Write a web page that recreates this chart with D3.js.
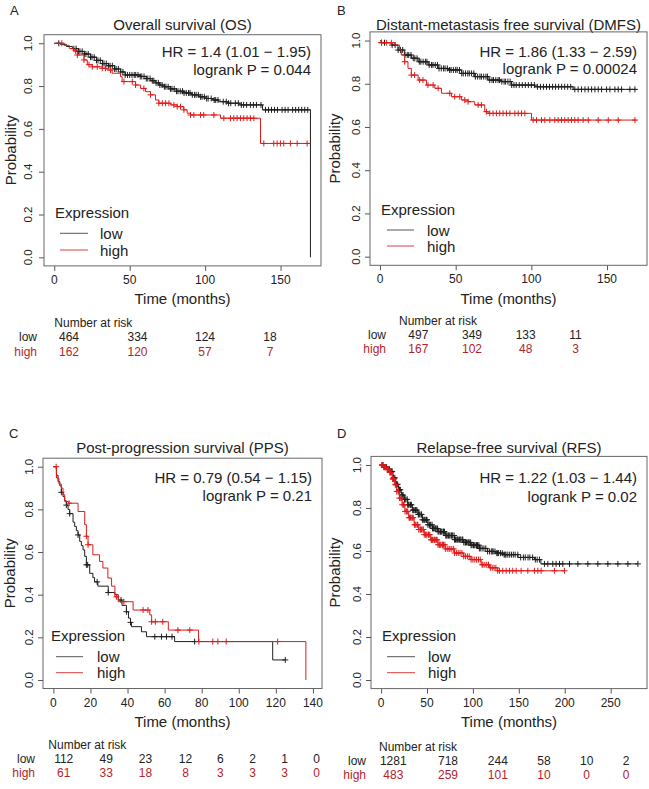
<!DOCTYPE html>
<html><head><meta charset="utf-8">
<script src="https://cdn.jsdelivr.net/npm/d3@7/dist/d3.min.js"></script>
<style>
body{margin:0;background:#fff}
text{font-family:"Liberation Sans",Arial,Helvetica,sans-serif;fill:#222}
</style>
</head><body>
<svg id="chart" width="649" height="789"></svg>
<script>
// ---------------- DATA ----------------
const yTicks = [0, 0.2, 0.4, 0.6, 0.8, 1.0];
const groups = ["low", "high"];

// A: Overall survival
const osTitle = "Overall survival (OS)";
const osStats = ["HR = 1.4 (1.01 \u2212 1.95)", "logrank P = 0.044"];
const osXTicks = [0, 50, 100, 150];
const osLowSteps = [[0,1],[4,0.995],[8,0.985],[12,0.975],[16,0.962],[20,0.95],[24,0.935],[28,0.92],[32,0.905],[36,0.895],[40,0.88],[44,0.866],[47,0.852],[57,0.845],[61,0.835],[64,0.825],[67,0.815],[70,0.805],[73,0.797],[77,0.787],[81,0.776],[86,0.768],[91,0.759],[96,0.75],[100,0.742],[105,0.735],[109,0.727],[115,0.72],[123,0.712],[138,0.689],[169.8,0]];
const osLowCensor = [3,13,14.5,16,17,18.5,20,21,22.5,24,25,26.5,28,29,30.5,32,33,34.5,36,37,38.5,40,41,42.5,44,45.5,47,48.5,50,51.5,53,54,55.5,57,58,59.5,61,62,63.5,65,66,67.5,69,70,71.5,73,74,75.5,77,78,79.5,81,82,83.5,85,86,87.5,89,90,91.5,93,94,95.5,97,98,99.5,101,102,104,106,107,108.5,112,114,115.5,117,120,122,124,125.5,127.5,130,132,134,137,140,142,144,146,148,151,153,155,158,160,162,164,166,168];
const osHighSteps = [[0,1],[6.4,0.99],[10,0.975],[13,0.965],[15.3,0.945],[19.7,0.922],[21.9,0.9],[25.2,0.89],[31.8,0.883],[35,0.875],[38.4,0.86],[43.9,0.844],[45,0.821],[53.9,0.805],[57.2,0.789],[60.5,0.774],[63.8,0.759],[67.1,0.735],[69.3,0.72],[77.1,0.712],[81.5,0.704],[85.9,0.689],[88.1,0.673],[90.3,0.665],[110.2,0.65],[136.7,0.532],[169.8,0.532]];
const osHighCensor = [5,14.1,15.3,19.7,23,25.2,28.5,31.8,34,37.3,46.2,51.7,53.9,59.4,63.8,69.3,71.6,73.8,76,79.3,81.5,83.7,85.9,90.3,92.5,96.9,99.1,105.8,112.4,116.8,119,121.2,123.4,125.6,127.8,130,132.3,138.9,145.5,147.7,149.9,152.1,156.5,161,167.6];
const osRiskLow = [464, 334, 124, 18];
const osRiskHigh = [162, 120, 57, 7];

// B: Distant-metastasis free survival
const dmfsTitle = "Distant-metastasis free survival (DMFS)";
const dmfsStats = ["HR = 1.86 (1.33 \u2212 2.59)", "logrank P = 0.00024"];
const dmfsXTicks = [0, 50, 100, 150];
const dmfsLowSteps = [[0,1],[0.8,0.99],[7.5,0.979],[11.9,0.956],[16.3,0.933],[20.7,0.918],[25.2,0.902],[31.8,0.887],[38.4,0.871],[45,0.864],[53.8,0.848],[62.6,0.833],[71.4,0.817],[80.3,0.81],[86.9,0.794],[102.3,0.786],[127.6,0.774],[169.5,0.774]];
const dmfsLowCensor = [1,3,8,10,12,13.5,15,16.5,18,19,20.5,22,23,24.5,26,27,28.5,30,31,32.5,34,35,36.5,38,39,40.5,42,43,44.5,46,47,48.5,50,51,52.5,54,55,56.5,58,59,60.5,62,63,64.5,66,67,68.5,70,71,72.5,74,75,76.5,78,79,80.5,82,83,84.5,86,87,88.5,90,92,94,96,98,100,102,104,106,108,110,112,114,116,118,120,122,124,126,128.7,130.9,133.1,135.4,137.6,139.8,142,144.2,146.4,149.7,151.9,155.2,157.4,159.6,165.1,168.4];
const dmfsHighSteps = [[0,1],[0.8,0.99],[9.7,0.979],[13,0.956],[14.1,0.933],[16.3,0.902],[18.5,0.871],[20.7,0.84],[25.2,0.817],[30.7,0.794],[36.2,0.779],[40.6,0.756],[47.2,0.74],[53.8,0.725],[58.2,0.717],[62.6,0.702],[69.2,0.671],[71.4,0.663],[100.1,0.632],[169.5,0.632]];
const dmfsHighCensor = [1,4.2,7.5,16.3,20.7,22.9,26.2,28.4,31.7,35.1,38.4,46.1,49.4,52.7,56,58.2,64.8,67,70.3,72.5,74.7,76.9,79.1,81.3,83.5,85.8,89.1,91.3,93.5,95.7,101.2,103.4,106.7,108.9,112.2,115.5,117.7,119.9,122.1,124.3,126.5,128.7,130.9,134.2,137.6,144.2,150.8,157.4,168.4];
const dmfsRiskLow = [497, 349, 133, 11];
const dmfsRiskHigh = [167, 102, 48, 3];

// C: Post-progression survival
const ppsTitle = "Post-progression survival (PPS)";
const ppsStats = ["HR = 0.79 (0.54 \u2212 1.15)", "logrank P = 0.21"];
const ppsXTicks = [0, 20, 40, 60, 80, 100, 120, 140];
const ppsLowSteps = [[0,1],[1.6,0.96],[2.5,0.93],[3.5,0.91],[4.3,0.88],[5.2,0.86],[6.1,0.84],[7,0.82],[7.9,0.8],[8.8,0.78],[10.6,0.74],[11.5,0.72],[12.4,0.7],[13.3,0.68],[14.2,0.65],[15.1,0.63],[16,0.61],[16.9,0.58],[17.8,0.54],[19.6,0.5],[21.3,0.48],[22.2,0.46],[24,0.44],[29.6,0.41],[33.2,0.4],[35,0.375],[37,0.35],[39.4,0.32],[40.5,0.29],[41.6,0.27],[42.1,0.25],[47.5,0.226],[50.2,0.203],[65.4,0.18],[118.3,0.094],[125.1,0.094]];
const ppsLowCensor = [4.3,7,8.8,13.3,17.8,18.5,23.6,29.6,36.5,39.4,41.6,54.7,58.3,61,64,76.2,125.1];
const ppsHighSteps = [[0,1],[1.7,0.947],[3,0.919],[4.3,0.9],[5.2,0.869],[6.1,0.837],[8.1,0.829],[13.3,0.79],[16.9,0.728],[17.8,0.674],[18.7,0.634],[21.3,0.587],[24.9,0.556],[26.7,0.525],[29.4,0.478],[31.4,0.44],[33.2,0.39],[35,0.367],[43,0.328],[52,0.305],[53,0.273],[62,0.234],[78.3,0.18],[136.2,0]];
const ppsHighCensor = [1.5,8.5,17.8,18.7,34,38,48.4,51,53,55,59,67.2,73.6,78.5,86,88.7,93.2,121];
const ppsRiskLow = [112, 49, 23, 12, 6, 2, 1, 0];
const ppsRiskHigh = [61, 33, 18, 8, 3, 3, 3, 0];

// D: Relapse-free survival
const rfsTitle = "Relapse-free survival (RFS)";
const rfsStats = ["HR = 1.22 (1.03 \u2212 1.44)", "logrank P = 0.02"];
const rfsXTicks = [0, 50, 100, 150, 200, 250];
const rfsLowSteps = [[0,1],[3,0.99],[7,0.98],[10,0.97],[13,0.94],[16,0.91],[19,0.885],[22,0.86],[25,0.84],[29,0.815],[34,0.79],[40,0.77],[45,0.745],[51,0.722],[56,0.705],[62,0.69],[70,0.672],[80,0.653],[90,0.64],[98,0.627],[107,0.612],[116,0.598],[125,0.59],[134,0.583],[149,0.57],[167,0.56],[174,0.54],[279.7,0.54]];
const rfsLowCensor = [1,2,3,4.5,5,6,7.5,8,9,10.5,11,12,13.5,14,15,16.5,17,18,19.5,20,21,22.5,23,24,25.5,26,27,28.5,29,30,31.5,32,33,34.5,35,36,37.5,38,39,40.5,41,42,43.5,44,45,46.5,47,48,49.5,50,51,52.5,53,54,55.5,56,57,58.5,59,60,61.5,62,63,64.5,65,66,67.5,68,69,70.5,71,72,73.5,74,75,76.5,77,78,79.5,80,81,82.5,83,84,85.5,86,87,88.5,89,90,91.5,92,93,94.5,95,96,97.5,98,99,100.5,101,102,103.5,104,105,106.5,107,108,110,112,114,116,118,120,121,122,124,126,127,128,130,132,134,135,136,138,140,142,144,146,148.9,152,155,157,160,162,165,168,170,172.5,177.9,181.6,187,190.6,194.3,197.9,205.2,214.3,225.2,236.1,247,257.9,268.8,279.7];
const rfsHighSteps = [[0,1],[3,0.99],[6,0.98],[9,0.965],[12,0.935],[14.5,0.908],[17,0.877],[20,0.846],[23,0.815],[26,0.784],[30,0.755],[36,0.722],[41,0.7],[47,0.676],[54,0.652],[62,0.629],[70,0.61],[80,0.591],[90,0.575],[98,0.56],[109,0.536],[118,0.522],[127,0.508],[199.7,0.508]];
const rfsHighCensor = [1,2,3.5,4,5,6.5,7,8,9.5,10,11,12.5,13,14,15.5,16,17,18.5,19,20,21.5,22,23,24.5,25,26,27.5,28,29,30.5,31,32,33.5,34,35,36.5,37,38,39.5,40,41,42.5,43,44,45.5,46,47,48.5,49,50,51.5,52,53,54.5,55,56,57.5,58,59,60.5,61,62,63.5,64,65,66.5,67,68,69.5,70,72,74,75,77,79,80,82,84,86,88,90,92,94,96,98,100,102,104,106,108,110,111,113,115,117,119,121,123,125,127,128.9,132.5,136.2,139.8,143.4,147.1,152.5,159.8,167,170.7,174.3,188.8,199.7];
const rfsRiskLow = [1281, 718, 244, 58, 10, 2];
const rfsRiskHigh = [483, 259, 101, 10, 0, 0];

// ---------------- LAYOUT ----------------
const colLow = "#1e1e1e", colHigh = "#e01b1b", colRiskHigh = "#b3242a";
const panels = [
  {letter:"A", lx:10, ly:15, title:osTitle, titleY:30, stats:osStats, statY:[57,74.7], xTicks:osXTicks,
   box:{left:44,right:321,top:34.7,bottom:265.9}, xlim:[-6.8,176.8], ylab:11, ytl:27.5, xtlY:284.3, xlabY:304.4,
   low:{steps:osLowSteps,censor:osLowCensor}, high:{steps:osHighSteps,censor:osHighCensor},
   leg:{x:55,lx1:60,lx2:88,tx:100,ey:218.4,ly:[233.3,250],ty:[239.4,256]},
   risk:{low:osRiskLow,high:osRiskHigh,cols:[69,137.5,205,270],labX:37,headX:54.3,headY:327,rowY:[341,355.5]}},
  {letter:"B", lx:337, ly:15, title:dmfsTitle, titleY:30, stats:dmfsStats, statY:[57,73.7], xTicks:dmfsXTicks,
   box:{left:370,right:647,top:31.9,bottom:265.3}, xlim:[-6.6,176.4], ylab:335, ytl:356, xtlY:283.3, xlabY:304.4,
   low:{steps:dmfsLowSteps,censor:dmfsLowCensor}, high:{steps:dmfsHighSteps,censor:dmfsHighCensor},
   leg:{x:381,lx1:387,lx2:414,tx:427,ey:214.7,ly:[230,246],ty:[236.4,252.4]},
   risk:{low:dmfsRiskLow,high:dmfsRiskHigh,cols:[418.3,472,525.7,575.5],labX:386,headX:399,headY:325,rowY:[339,353.3]}},
  {letter:"C", lx:9, ly:438, title:ppsTitle, titleY:453, stats:ppsStats, statY:[482.7,501.4], xTicks:ppsXTicks,
   box:{left:43,right:322,top:458.2,bottom:688.5}, xlim:[-5.6,144.9], ylab:10, ytl:29, xtlY:707, xlabY:727,
   low:{steps:ppsLowSteps,censor:ppsLowCensor}, high:{steps:ppsHighSteps,censor:ppsHighCensor},
   leg:{x:51,lx1:56,lx2:83,tx:97,ey:641,ly:[656.7,672.7],ty:[662.4,678.4]},
   risk:{low:ppsRiskLow,high:ppsRiskHigh,cols:[63.7,106.3,145.5,185.5,220.3,252.7,284.5,316.7],labX:35,headX:48.3,headY:748.5,rowY:[762.8,777.2]}},
  {letter:"D", lx:337, ly:438, title:rfsTitle, titleY:453, stats:rfsStats, statY:[483.4,502], xTicks:rfsXTicks,
   box:{left:371,right:647,top:456.4,bottom:688.6}, xlim:[-11,289.6], ylab:335, ytl:357, xtlY:707.3, xlabY:727.4,
   low:{steps:rfsLowSteps,censor:rfsLowCensor}, high:{steps:rfsHighSteps,censor:rfsHighCensor},
   leg:{x:382,lx1:387,lx2:415,tx:428,ey:641,ly:[656.7,672.7],ty:[662.4,678.4]},
   risk:{low:rfsRiskLow,high:rfsRiskHigh,cols:[393.3,448,497.8,544,586.7,626],labX:366,headX:379,headY:750.5,rowY:[764.8,779.2]}}
];

// ---------------- DRAW ----------------
const svg = d3.select("#chart");
function survAt(steps, t) {
  let s = steps[0][1];
  for (const p of steps) { if (p[0] <= t) s = p[1]; }
  return s;
}

panels.forEach(P => {
  const g = svg.append("g");
  const b = P.box;
  const x = d3.scaleLinear().domain(P.xlim).range([b.left, b.right]);
  const y = d3.scaleLinear().domain([-0.04, 1.04]).range([b.bottom, b.top]);

  g.append("text").attr("x", P.lx).attr("y", P.ly).style("font-size", "13px").text(P.letter);
  g.append("text").attr("x", (b.left + b.right) / 2).attr("y", P.titleY).attr("text-anchor", "middle")
    .style("font-size", "15px").text(P.title);

  // x axis
  const xa = g.append("g").attr("transform", `translate(0,${b.bottom})`)
    .call(d3.axisBottom(x).tickValues(P.xTicks).tickSize(5).tickFormat(""));
  xa.select(".domain").remove();
  xa.selectAll("line").attr("stroke", "#555");
  g.selectAll(null).data(P.xTicks).join("text")
    .attr("x", d => x(d)).attr("y", P.xtlY).attr("text-anchor", "middle")
    .style("font-size", "12px").text(d => d);
  g.append("text").attr("x", (b.left + b.right) / 2).attr("y", P.xlabY).attr("text-anchor", "middle")
    .style("font-size", "15px").text("Time (months)");

  // y axis
  const ya = g.append("g").attr("transform", `translate(${b.left},0)`)
    .call(d3.axisLeft(y).tickValues(yTicks).tickSize(5).tickFormat(""));
  ya.select(".domain").remove();
  ya.selectAll("line").attr("stroke", "#555");
  g.selectAll(null).data(yTicks).join("text")
    .attr("transform", d => `translate(${P.ytl},${y(d)}) rotate(-90)`)
    .attr("text-anchor", "middle").attr("dy", "0.36em")
    .style("font-size", "11.5px").text(d => d3.format(".1f")(d));
  g.append("text").attr("transform", `translate(${P.ylab},${y(0.5)}) rotate(-90)`)
    .attr("text-anchor", "middle").attr("dy", "0.36em").style("font-size", "15px").text("Probability");

  // box
  g.append("rect").attr("x", b.left).attr("y", b.top).attr("width", b.right - b.left)
    .attr("height", b.bottom - b.top).attr("fill", "none").attr("stroke", "#666").attr("stroke-width", 1);

  // curves
  const line = d3.line().x(d => x(d[0])).y(d => y(d[1])).curve(d3.curveStepAfter);
  [["low", colLow], ["high", colHigh]].forEach(([k, c]) => {
    const S = P[k];
    g.append("path").attr("d", line(S.steps)).attr("fill", "none").attr("stroke", c).attr("stroke-width", 1);
    const cg = g.append("g").attr("stroke", c).attr("stroke-width", 1);
    S.censor.forEach(t => {
      const cx = x(t), cy = y(survAt(S.steps, t));
      cg.append("line").attr("x1", cx).attr("x2", cx).attr("y1", cy - 3).attr("y2", cy + 3);
      cg.append("line").attr("x1", cx - 3).attr("x2", cx + 3).attr("y1", cy).attr("y2", cy);
    });
  });

  // stats
  P.stats.forEach((s, i) => g.append("text").attr("x", b.right - 10).attr("y", P.statY[i])
    .attr("text-anchor", "end").style("font-size", "15px").text(s));

  // legend
  const L = P.leg;
  g.append("text").attr("x", L.x).attr("y", L.ey).style("font-size", "15px").text("Expression");
  groups.forEach((k, i) => {
    g.append("line").attr("x1", L.lx1).attr("x2", L.lx2).attr("y1", L.ly[i]).attr("y2", L.ly[i])
      .attr("stroke", i ? "#d84040" : "#555").attr("stroke-width", 1);
    g.append("text").attr("x", L.tx).attr("y", L.ty[i]).style("font-size", "15px").text(k);
  });

  // risk table
  const R = P.risk;
  g.append("text").attr("x", R.headX).attr("y", R.headY).style("font-size", "12px").text("Number at risk");
  groups.forEach((k, i) => {
    const col = i ? colRiskHigh : "#222";
    g.append("text").attr("x", R.labX).attr("y", R.rowY[i]).attr("text-anchor", "end")
      .style("font-size", "12px").style("fill", col).text(k);
    g.selectAll(null).data(R[k]).join("text")
      .attr("x", (d, j) => R.cols[j]).attr("y", R.rowY[i]).attr("text-anchor", "middle")
      .style("font-size", "12px").style("fill", col).text(d => d);
  });
});
</script>
</body></html>
